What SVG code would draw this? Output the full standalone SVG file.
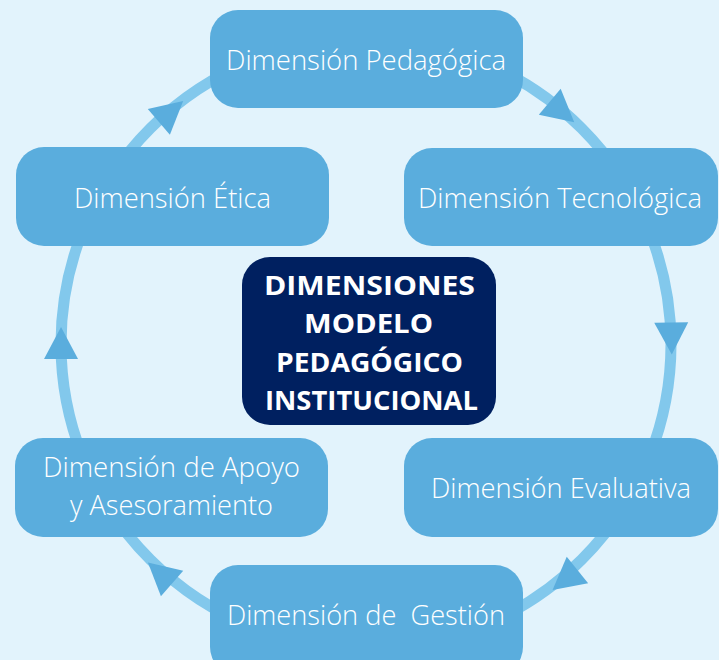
<svg xmlns="http://www.w3.org/2000/svg" width="719" height="660" viewBox="0 0 719 660">
  <style>
    .bg { fill: #e2f3fc; }
    .ring { fill: none; stroke: #82c8ec; stroke-width: 11; }
    .head { fill: #5aaddd; }
    .box { fill: #5aaddd; }
    .core { fill: #002060; }
    .lbl { fill: #ffffff; font-family: "Open Sans", "Noto Sans", "Liberation Sans", sans-serif; font-size: 27px; font-weight: 300; text-anchor: middle; white-space: pre; }
    .ttl { fill: #ffffff; font-family: "Open Sans", "Noto Sans", "Liberation Sans", sans-serif; font-size: 27px; font-weight: 700; text-anchor: middle; }
  </style>
  <defs>
    <path id="arrowhead" d="M 16 0 L -16 -17 L -16 17 Z"/>
  </defs>
  <rect class="bg" x="0" y="0" width="719" height="660"/>

  <g id="connectors">
    <circle class="ring" cx="366" cy="344" r="305"/>
    <use href="#arrowhead" class="head" transform="translate(562 112) rotate(40)"/>
    <use href="#arrowhead" class="head" transform="translate(671.5 338.5) rotate(89)"/>
    <use href="#arrowhead" class="head" transform="translate(565 580) rotate(141)"/>
    <use href="#arrowhead" class="head" transform="translate(160 573) rotate(221)"/>
    <use href="#arrowhead" class="head" transform="translate(61 343) rotate(270)"/>
    <use href="#arrowhead" class="head" transform="translate(171 111.5) rotate(-40.5)"/>
  </g>

  <g id="node-pedagogica">
    <rect class="box" x="210" y="10" width="313" height="98" rx="28"/>
    <text class="lbl" x="366" y="70" textLength="280" lengthAdjust="spacingAndGlyphs">Dimensión Pedagógica</text>
  </g>
  <g id="node-tecnologica">
    <rect class="box" x="404" y="148" width="314" height="98" rx="28"/>
    <text class="lbl" x="560" y="208" textLength="284" lengthAdjust="spacingAndGlyphs">Dimensión Tecnológica</text>
  </g>
  <g id="node-evaluativa">
    <rect class="box" x="404" y="438" width="314" height="99" rx="28"/>
    <text class="lbl" x="561" y="498" textLength="260" lengthAdjust="spacingAndGlyphs">Dimensión Evaluativa</text>
  </g>
  <g id="node-gestion">
    <rect class="box" x="210" y="565" width="313" height="110" rx="28"/>
    <text class="lbl" x="366" y="625" textLength="278" lengthAdjust="spacingAndGlyphs">Dimensión de  Gestión</text>
  </g>
  <g id="node-apoyo">
    <rect class="box" x="15" y="438" width="313" height="99" rx="28"/>
    <text class="lbl" x="171.5" y="477" textLength="257" lengthAdjust="spacingAndGlyphs">Dimensión de Apoyo</text>
    <text class="lbl" x="171.5" y="515" textLength="203" lengthAdjust="spacingAndGlyphs">y Asesoramiento</text>
  </g>
  <g id="node-etica">
    <rect class="box" x="16" y="147" width="313" height="99" rx="28"/>
    <text class="lbl" x="172.5" y="208" textLength="197" lengthAdjust="spacingAndGlyphs">Dimensión Ética</text>
  </g>
  <g id="node-center">
    <rect class="core" x="242" y="257" width="254" height="168" rx="28"/>
    <text class="ttl" x="369.5" y="295" textLength="211" lengthAdjust="spacingAndGlyphs">DIMENSIONES</text>
    <text class="ttl" x="368.5" y="333" textLength="129" lengthAdjust="spacingAndGlyphs">MODELO</text>
    <text class="ttl" x="369.5" y="372" textLength="187" lengthAdjust="spacingAndGlyphs">PEDAGÓGICO</text>
    <text class="ttl" x="371.5" y="410" textLength="213" lengthAdjust="spacingAndGlyphs">INSTITUCIONAL</text>
  </g>
</svg>
